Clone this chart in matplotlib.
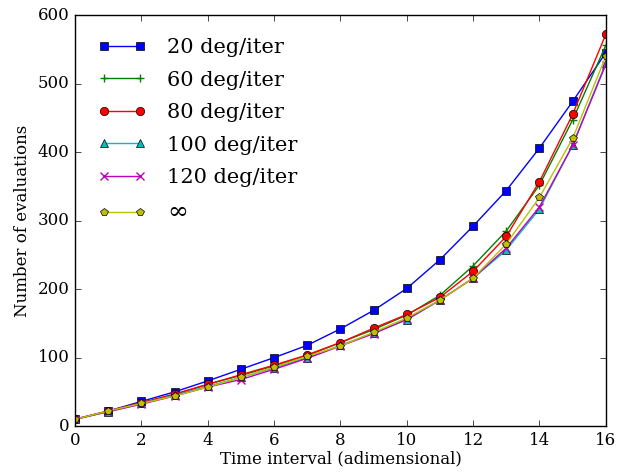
import matplotlib
matplotlib.use('Agg')
import matplotlib.pyplot as plt

plt.style.use('classic')
plt.rcParams['font.family'] = ['DejaVu Serif']

# Data
time_interval = list(range(17))
evals_20 = [10, 22, 36, 50, 66, 83, 100, 118, 142, 169, 201, 243, 292, 344, 406, 474, 545]
evals_60 = [10, 22, 34, 46, 61, 74, 88, 103, 122, 141, 162, 191, 234, 285, 352, 447, 556]
evals_80 = [10, 22, 34, 47, 61, 75, 89, 104, 122, 143, 163, 188, 226, 277, 357, 455, 572]
evals_100 = [10, 21, 33, 45, 58, 71, 85, 100, 118, 136, 155, 184, 216, 257, 317, 410, 530]
evals_120 = [10, 21, 32, 44, 57, 68, 83, 99, 117, 135, 156, 184, 216, 260, 320, 410, 528]
evals_inf = [10, 22, 33, 44, 57, 71, 86, 102, 117, 137, 158, 184, 216, 266, 334, 420, 540]

labels = ['20 deg/iter', '60 deg/iter', '80 deg/iter', '100 deg/iter', '120 deg/iter', '\u221e']

fig = plt.figure(figsize=(6.37, 4.75), dpi=100, facecolor='white')
ax = fig.add_axes([0.118, 0.103, 0.833, 0.865])

series = [evals_20, evals_60, evals_80, evals_100, evals_120, evals_inf]
styles = [('b', 's'), ('g', '+'), ('r', 'o'), ('c', '^'), ('m', 'x'), ('y', 'p')]
for vals, (col, mk), lab in zip(series, styles, labels):
    line_mk = mk not in ('+', 'x')
    ax.plot(time_interval, vals, color=col, marker=mk, label=lab,
            markersize=6, markeredgewidth=0.5 if line_mk else 1.0,
            markeredgecolor='k' if line_mk else col)

ax.set_xlim(0, 16)
ax.set_ylim(0, 600)
ax.set_xlabel('Time interval (adimensional)', fontsize=12, labelpad=1)
ax.set_ylabel('Number of evaluations', fontsize=12)
ax.tick_params(labelsize=12)
leg = ax.legend(loc='upper left', frameon=False, numpoints=2, fontsize=15,
                handlelength=2.3, labelspacing=0.65, borderaxespad=0.7,
                handletextpad=1.0)
leg.get_texts()[-1].set_fontsize(18)

fig.savefig('out.png', dpi=100, facecolor='white')
